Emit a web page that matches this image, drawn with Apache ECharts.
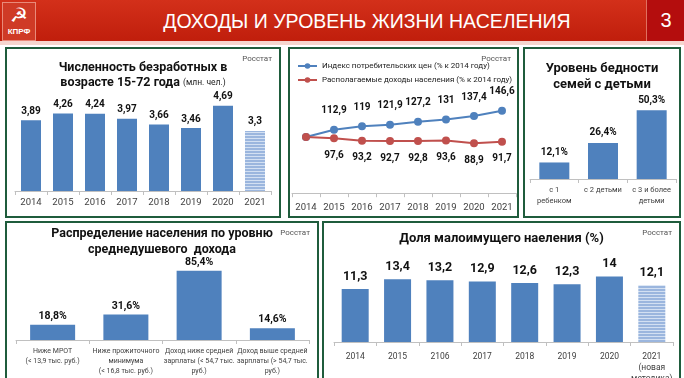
<!DOCTYPE html>
<html>
<head>
<meta charset="utf-8" />
<title>Доходы и уровень жизни населения</title>
<script src="https://cdn.jsdelivr.net/npm/echarts@6/dist/echarts.min.js"></script>
<style>
  html, body { margin: 0; padding: 0; background: #fff; overflow: hidden; }
  body { width: 684px; height: 378px; position: relative; font-family: Roboto, "Noto Sans", sans-serif; }
  #header { position: absolute; left: 0; top: 0; width: 684px; height: 41px; background: linear-gradient(#d3301a, #c01e0c); }
  #band { position: absolute; left: 0; top: 41px; width: 684px; height: 4px; background: #f5d6cf; }
  #logo { position: absolute; left: 2px; top: 2px; width: 32px; height: 37px; background: #cf3a26; border: 1px solid #e98a7a; color: #fff; text-align: center; }
  #logo .em { font-size: 20px; line-height: 24px; }
  #logo .nm { font: bold 8px "Liberation Sans", sans-serif; line-height: 10px; }
  #htitle { position: absolute; left: 0; top: 0; width: 734px; height: 41px; text-align: center; color: #fff; font: 19.5px "Liberation Sans", Arial, sans-serif; line-height: 42px; }
  #num { position: absolute; left: 646px; top: 0; width: 38px; height: 41px; background: #b40d0d; border-left: 1px solid #e0705f; color: #fff; text-align: center; font: 20px "Liberation Sans", sans-serif; line-height: 41px; }
  .panel { position: absolute; border: 2px solid #1f5c3c; box-sizing: border-box; background: #fff; }
  .chart { position: absolute; left: 0; top: 0; width: 100%; height: 100%; }
</style>
</head>
<body>
<div id="header"></div>
<div id="band"></div>
<div id="logo"><div class="em">☭</div><div class="nm">КПРФ</div></div>
<div id="htitle">ДОХОДЫ И УРОВЕНЬ ЖИЗНИ НАСЕЛЕНИЯ</div>
<div id="num">3</div>

<div class="panel" style="left:5px;top:47px;width:276px;height:171px;"><div id="c1" class="chart"></div></div>
<div class="panel" style="left:288px;top:47px;width:231px;height:171px;"><div id="c2" class="chart"></div></div>
<div class="panel" style="left:523px;top:47px;width:158px;height:171px;"><div id="c3" class="chart"></div></div>
<div class="panel" style="left:5px;top:221px;width:314px;height:165px;"><div id="c4" class="chart"></div></div>
<div class="panel" style="left:322px;top:221px;width:359px;height:165px;"><div id="c5" class="chart"></div></div>

<script type="text/javascript">
// данные
var years = ['2014', '2015', '2016', '2017', '2018', '2019', '2020', '2021'];
var unemployed = [3.89, 4.26, 4.24, 3.97, 3.66, 3.46, 4.69, 3.3];

var cpiIndex = [100, 112.9, 119, 121.9, 127.2, 131, 137.4, 146.6];
var realIncome = [100, 97.6, 93.2, 92.7, 92.8, 93.6, 88.9, 91.7];

var familyCats = ['с 1\nребенком', 'с 2 детьми', 'с 3 и более\nдетьми'];
var familyPoverty = [12.1, 26.4, 50.3];

var incomeCats = ['Ниже МРОТ\n(< 13,9 тыс. руб.)', 'Ниже прожиточного\nминимума\n(< 16,8 тыс. руб.)',
    'Доход ниже средней\nзарплаты (< 54,7 тыс.\nруб.)', 'Доход выше средней\nзарплаты (> 54,7 тыс.\nруб.)'];
var incomeShare = [18.8, 31.6, 85.4, 14.6];

var poorYears = ['2014', '2015', '2106', '2017', '2018', '2019', '2020', '2021\n(новая\nметодика)'];
var poorShare = [11.3, 13.4, 13.2, 12.9, 12.6, 12.3, 14, 12.1];

var BLUE = '#4f81bd';
var RED = '#c0504d';
var FONT = 'Roboto, "Noto Sans", sans-serif';

// штриховка для последнего (предварительного) столбца
var pc = document.createElement('canvas');
pc.width = 4; pc.height = 3;
var pctx = pc.getContext('2d');
pctx.fillStyle = '#9bb6de'; pctx.fillRect(0, 0, 4, 3);
pctx.fillStyle = '#d3e0f2'; pctx.fillRect(0, 2, 4, 1);
var stripe = { image: pc, repeat: 'repeat' };

function fmt(v) { return String(v).replace('.', ','); }
function fmtPct(v) { return String(v).replace('.', ',') + '%'; }

function src(right) {
    return { text: 'Росстат', right: right, top: 1, textStyle: { fontSize: 8, fontWeight: 'normal', color: '#555', fontFamily: FONT } };
}
function catAxis(data, size, lh, margin) {
    return {
        type: 'category', data: data,
        axisLine: { lineStyle: { color: '#c0c0c0' } },
        axisTick: { show: true, length: 4, lineStyle: { color: '#c0c0c0' } },
        axisLabel: { color: '#404040', fontSize: size, lineHeight: lh || size + 2, fontFamily: FONT, margin: margin || 6, interval: 0 }
    };
}
function valAxis(min, max) {
    return { type: 'value', min: min, max: max, show: false, splitLine: { show: false } };
}
function barData(vals, hatchLast) {
    return vals.map(function (v, i) {
        if (hatchLast && i === vals.length - 1) return { value: v, itemStyle: { color: stripe } };
        return v;
    });
}

// 1. безработные
var c1 = echarts.init(document.getElementById('c1'));
c1.setOption({
    animation: false,
    title: [{
        text: 'Численность безработных в\nвозрасте 15-72 года {s|(млн. чел.)}',
        left: 'center', top: 6,
        textStyle: { fontSize: 12.5, fontWeight: 'bold', color: '#111', fontFamily: FONT, lineHeight: 15,
            rich: { s: { fontSize: 8.5, fontWeight: 'normal', color: '#222', fontFamily: FONT } } }
    }, src(2)],
    grid: { left: 8, right: 8, top: 51, bottom: 25 },
    xAxis: catAxis(years, 9.5),
    yAxis: valAxis(0, 5),
    series: [{
        type: 'bar', barWidth: 20, data: barData(unemployed, true),
        itemStyle: { color: BLUE },
        label: { show: true, position: 'top', distance: 4, fontSize: 10, fontWeight: 'bold', color: '#111', fontFamily: FONT, formatter: function (p) { return fmt(p.value); } }
    }]
});

// 2. индекс цен и доходы
var c2 = echarts.init(document.getElementById('c2'));
c2.setOption({
    animation: false,
    title: [src(1)],
    legend: {
        orient: 'vertical', left: 2, top: 8, itemGap: 6, itemWidth: 19, itemHeight: 7,
        textStyle: { fontSize: 8, color: '#222', fontFamily: FONT },
        data: ['Индекс потребительских цен (% к 2014 году)', 'Располагаемые доходы населения (% к 2014 году)']
    },
    grid: { left: 2, right: 1, top: 56, bottom: 20 },
    xAxis: catAxis(years, 9.5),
    yAxis: valAxis(-5, 157),
    series: [{
        name: 'Индекс потребительских цен (% к 2014 году)', type: 'line', data: cpiIndex,
        symbol: 'circle', symbolSize: 8, lineStyle: { width: 2, color: BLUE }, itemStyle: { color: BLUE },
        label: { show: true, position: 'top', distance: 10, fontSize: 10, fontWeight: 'bold', color: '#111', fontFamily: FONT,
            formatter: function (p) { return p.dataIndex === 0 ? '' : fmt(p.value); } }
    }, {
        name: 'Располагаемые доходы населения (% к 2014 году)', type: 'line', data: realIncome,
        symbol: 'circle', symbolSize: 8, lineStyle: { width: 2, color: RED }, itemStyle: { color: RED },
        label: { show: true, position: 'bottom', distance: 8, fontSize: 10, fontWeight: 'bold', color: '#111', fontFamily: FONT,
            formatter: function (p) { return p.dataIndex === 0 ? '' : fmt(p.value); } }
    }]
});

// 3. бедность семей с детьми
var c3 = echarts.init(document.getElementById('c3'));
c3.setOption({
    animation: false,
    title: [{
        text: 'Уровень бедности\nсемей с детьми', left: 'center', top: 7,
        textStyle: { fontSize: 13, fontWeight: 'bold', color: '#111', fontFamily: FONT, lineHeight: 16 }
    }],
    grid: { left: 5, right: 3, top: 48, bottom: 37 },
    xAxis: catAxis(familyCats, 7.5, 11),
    yAxis: valAxis(0, 60),
    series: [{
        type: 'bar', barWidth: 30, data: familyPoverty, itemStyle: { color: BLUE },
        label: { show: true, position: 'top', distance: 5, fontSize: 10, fontWeight: 'bold', color: '#111', fontFamily: FONT, formatter: function (p) { return fmtPct(p.value); } }
    }]
});

// 4. распределение по доходу
var c4 = echarts.init(document.getElementById('c4'));
c4.setOption({
    animation: false,
    title: [{
        text: 'Распределение населения по уровню\nсреднедушевого  дохода', left: 'center', top: -2,
        textStyle: { fontSize: 12.5, fontWeight: 'bold', color: '#111', fontFamily: FONT, lineHeight: 16 }
    }, src(2)],
    grid: { left: 9, right: 8, top: 36, bottom: 44 },
    xAxis: catAxis(incomeCats, 7, 10),
    yAxis: valAxis(0, 100),
    series: [{
        type: 'bar', barWidth: 45, data: incomeShare, itemStyle: { color: BLUE },
        label: { show: true, position: 'top', distance: 3, fontSize: 10.5, fontWeight: 'bold', color: '#111', fontFamily: FONT, formatter: function (p) { return fmtPct(p.value); } }
    }]
});

// 5. доля малоимущего населения
var c5 = echarts.init(document.getElementById('c5'));
c5.setOption({
    animation: false,
    title: [{
        text: 'Доля малоимущего наеления (%)', left: 'center', top: 4,
        textStyle: { fontSize: 13, fontWeight: 'bold', color: '#111', fontFamily: FONT }
    }, src(2)],
    grid: { left: 10, right: 6, top: 44, bottom: 37 },
    xAxis: catAxis(poorYears, 8.5, 11, 9),
    yAxis: valAxis(0, 16),
    series: [{
        type: 'bar', barWidth: 27, data: barData(poorShare, true), itemStyle: { color: BLUE },
        label: { show: true, position: 'top', distance: 6, fontSize: 12.5, fontWeight: 'bold', color: '#111', fontFamily: FONT, formatter: function (p) { return fmt(p.value); } }
    }]
});
</script>
</body>
</html>
